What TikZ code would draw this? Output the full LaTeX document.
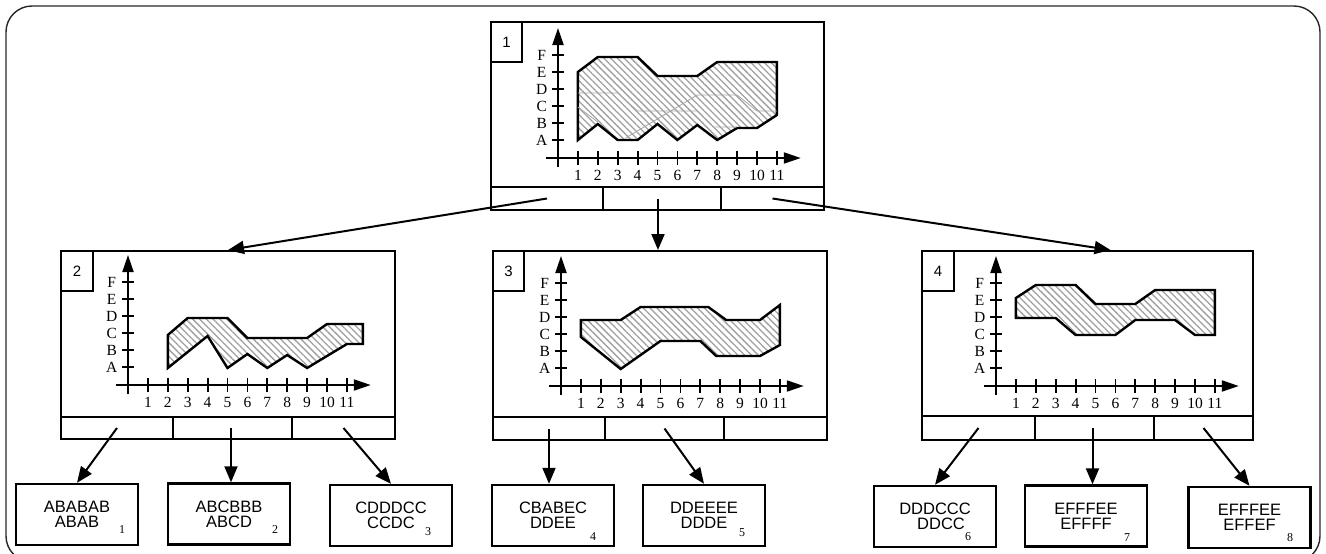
\documentclass[tikz,border=0pt]{standalone}
\usepackage{fontspec}
\setmainfont{Liberation Serif}
\newfontfamily\lsans{Liberation Sans}
\usetikzlibrary{arrows.meta,patterns.meta}
\tikzset{
 boxst/.style={draw, line width=2pt, inner sep=0pt, anchor=center},
 cellst/.style={draw, line width=2pt, inner sep=0pt, anchor=center},
 leafbox/.style={draw, line width=2.4pt, minimum width=122pt, minimum height=61pt, inner sep=0pt, align=center, font=\lsans\fontsize{16.5}{15}\selectfont},
 numlab/.style={font=\lsans\fontsize{15}{15}\selectfont},
 sublab/.style={font=\fontsize{12}{12}\selectfont, inner sep=0pt},
 axisline/.style={line width=2pt, -{Triangle[length=17pt,width=11pt]}},
 tickline/.style={line width=1.8pt},
 axlab/.style={font=\fontsize{15.5}{15.5}\selectfont, inner sep=0pt},
 hatched/.style={draw, line width=2.4pt, line join=miter, pattern={Lines[angle=-45,distance=4.8pt,line width=1.3pt]}, pattern color=gray!75},
 ghost/.style={gray!70, line width=0.8pt},
 conn/.style={line width=2pt, -{Triangle[length=16pt,width=13pt]}},
}
\newcommand\drawaxes[3]{%
 \begin{scope}[xshift=#1pt, yshift=-#2pt, x=19.9pt, y=1pt]
  \draw[axisline] (-0.6,0) -- (12.2,0);
  \draw[axisline] (0,-9) -- (0,130);
  \foreach \i in {1,...,11} {\draw[tickline] (\i,-7) -- (\i,7); \node[axlab] (#3x\i) at (\i,-17) {\i};}
  \foreach \k/\lt in {1/A,2/B,3/C,4/D,5/E,6/F} {\draw[tickline] (-0.3,17*\k+1) -- (0.3,17*\k+1); \node[axlab] (#3y\k) at (-0.82,17*\k+1) {\lt};}
 \end{scope}}
\begin{document}
\begin{tikzpicture}[x=1pt,y=-1pt]
\useasboundingbox (0,0) rectangle (1326,554);
% outer frame
\draw[line width=1.4pt, rounded corners=26pt, black!85] (6,6) rectangle (1320,562);

% ---------- chart 1 ----------
\node[boxst, minimum width=333pt, minimum height=165pt] (c1) at (657.5,104.5) {};
\node[cellst, minimum width=112pt, minimum height=23pt] (c1a) at (547,198.5) {};
\node[cellst, minimum width=118pt, minimum height=23pt] (c1b) at (662,198.5) {};
\node[cellst, minimum width=103pt, minimum height=23pt] (c1c) at (772.5,198.5) {};
\node[boxst, minimum width=31pt, minimum height=40pt, numlab] (n1) at (506.5,42) {1};
\begin{scope}[xshift=558pt, yshift=-158pt, x=19.9pt, y=1pt]
 \draw[hatched] (1,86) -- (2,101) -- (4,101) -- (5,82) -- (7,82) -- (8,96) -- (11,96)
   -- (11,43) -- (10,30) -- (9,30) -- (8,18) -- (7,33) -- (6,18) -- (5,34) -- (4,18) -- (3,18) -- (2,34) -- (1,18) -- cycle;
 \draw[ghost] (1,65) -- (3,65) -- (4,47) -- (7,47);
 \draw[ghost] (3.4,20) -- (7,63) -- (9,63) -- (10,47) -- (11,47);
 \draw[ghost] (1,51) -- (2,36);
 \draw[ghost] (7,47) -- (7.8,31) -- (9,31);
\end{scope}
\drawaxes{558}{158}{a}

% ---------- chart 2 ----------
\node[boxst, minimum width=334pt, minimum height=166pt] (c2) at (228,334) {};
\node[cellst, minimum width=112pt, minimum height=22pt] (c2a) at (117,428) {};
\node[cellst, minimum width=119pt, minimum height=22pt] (c2b) at (232.5,428) {};
\node[cellst, minimum width=103pt, minimum height=22pt] (c2c) at (343.5,428) {};
\node[boxst, minimum width=32pt, minimum height=40pt, numlab] (n2) at (77,271) {2};
\begin{scope}[xshift=128pt, yshift=-385pt, x=19.9pt, y=1pt]
 \draw[hatched] (2,50) -- (3,67) -- (5,67) -- (6,47) -- (9,47) -- (10,61) -- (11.8,61)
   -- (11.8,41) -- (11,41) -- (9,17) -- (8,30) -- (7,17) -- (6,31) -- (5,17) -- (4,49) -- (2,17) -- cycle;
\end{scope}
\drawaxes{128}{385}{b}

% ---------- chart 3 ----------
\node[boxst, minimum width=334pt, minimum height=166pt] (c3) at (660,334) {};
\node[cellst, minimum width=112pt, minimum height=23pt] (c3a) at (549,428.5) {};
\node[cellst, minimum width=119pt, minimum height=23pt] (c3b) at (664.5,428.5) {};
\node[cellst, minimum width=103pt, minimum height=23pt] (c3c) at (775.5,428.5) {};
\node[boxst, minimum width=31pt, minimum height=40pt, numlab] (n3) at (508.5,271) {3};
\begin{scope}[xshift=561pt, yshift=-386pt, x=19.9pt, y=1pt]
 \draw[hatched] (1,66) -- (3,66) -- (4,79) -- (7.4,79) -- (8.3,66) -- (10,66) -- (11,81)
   -- (11,41) -- (10,30) -- (7.8,30) -- (7,45) -- (5,45) -- (3,17) -- (1,49) -- cycle;
\end{scope}
\drawaxes{561}{386}{c}

% ---------- chart 4 ----------
\node[boxst, minimum width=331pt, minimum height=165pt] (c4) at (1087.5,333.5) {};
\node[cellst, minimum width=113pt, minimum height=24pt] (c4a) at (978.5,428) {};
\node[cellst, minimum width=119pt, minimum height=24pt] (c4b) at (1094.5,428) {};
\node[cellst, minimum width=99pt, minimum height=24pt] (c4c) at (1203.5,428) {};
\node[boxst, minimum width=32pt, minimum height=40pt, numlab] (n4) at (938,271) {4};
\begin{scope}[xshift=996pt, yshift=-386pt, x=19.9pt, y=1pt]
 \draw[hatched] (1,88) -- (2,101) -- (4,101) -- (5,82) -- (7,82) -- (8,96) -- (11,96)
   -- (11,51) -- (10,51) -- (9,66) -- (7,66) -- (6,51) -- (4,51) -- (3,68) -- (1,68) -- cycle;
\end{scope}
\drawaxes{996}{386}{d}

% ---------- leaf boxes ----------
\node[leafbox] (b1) at (77,514.5) {ABABAB\\ABAB};
\node[leafbox] (b2) at (229,514) {ABCBBB\\ABCD};
\node[leafbox] (b3) at (391,515.5) {CDDDCC\\CCDC};
\node[leafbox] (b4) at (553,515.5) {CBABEC\\DDEE};
\node[leafbox] (b5) at (704,515.5) {DDEEEE\\DDDE};
\node[leafbox] (b6) at (935,516.5) {DDDCCC\\\hspace*{12pt}DDCC};
\node[leafbox] (b7) at (1086,516) {EFFFEE\\EFFFF};
\node[leafbox] (b8) at (1249.5,517.5) {EFFFEE\\EFFEF};
\node[sublab] (s1) at (122,530) {1};
\node[sublab] (s2) at (275,530) {2};
\node[sublab] (s3) at (428,532) {3};
\node[sublab] (s4) at (593,537) {4};
\node[sublab] (s5) at (742,533) {5};
\node[sublab] (s6) at (968,537) {6};
\node[sublab] (s7) at (1127,538) {7};
\node[sublab] (s8) at (1290,538) {8};

% ---------- connectors ----------
\coordinate (c4top) at ([xshift=23pt]c4.north);
\coordinate (c1bs) at ([xshift=-4pt]c1b.center);
\coordinate (c2bs) at ([xshift=-1.5pt]c2b.center);
\coordinate (c4bs) at ([xshift=-2pt]c4b.center);
\draw[conn] (c1a.center) -- (c2.north);
\draw[conn] (c1bs) -- (c1bs |- c3.north);
\draw[conn] (c1c.center) -- (c4top);
\draw[conn] (c2a.center) -- (b1.north);
\draw[conn] (c2bs) -- (c2bs |- b2.north);
\draw[conn] (c2c.center) -- (b3.north);
\draw[conn] (c3a.center) -- (c3a.center |- b4.north);
\draw[conn] (c3b.center) -- (b5.north);
\draw[conn] (c4a.center) -- (b6.north);
\draw[conn] (c4bs) -- (c4bs |- b7.north);
\draw[conn] (c4c.center) -- (b8.north);
\end{tikzpicture}
\end{document}
